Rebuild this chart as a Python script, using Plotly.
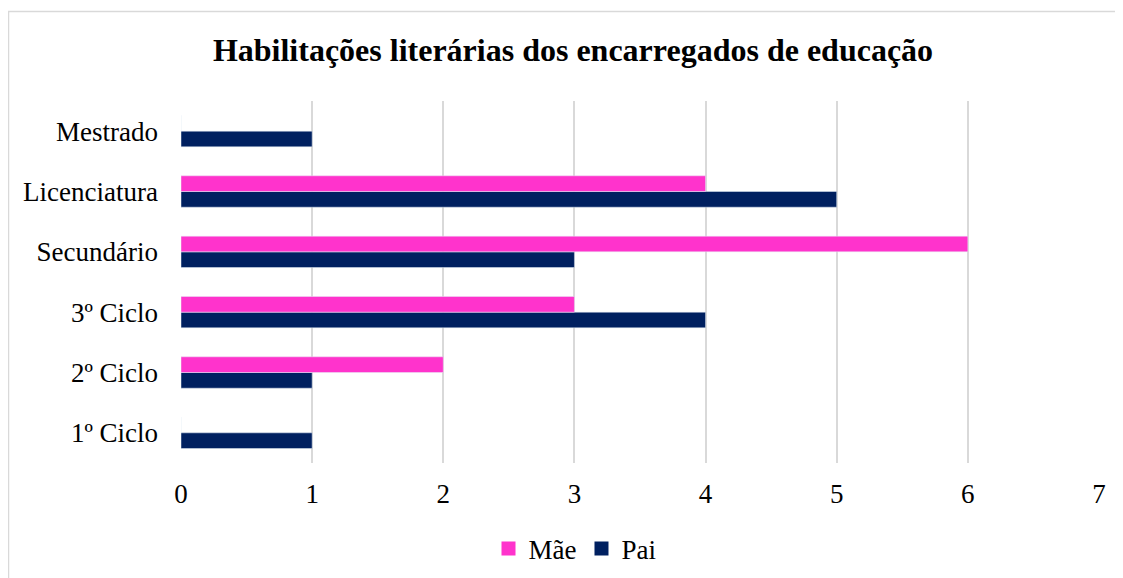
import plotly.graph_objects as go

categorias = ["1º Ciclo", "2º Ciclo", "3º Ciclo", "Secundário", "Licenciatura", "Mestrado"]
mae = [0, 2, 3, 6, 4, 0]
pai = [1, 1, 4, 3, 5, 1]

fonte = "Liberation Serif"
cor_mae = "#FF33CC"
cor_pai = "#002060"

fig = go.Figure()

# Pai first so it sits below Mãe within each group
fig.add_trace(go.Bar(y=categorias, x=pai, orientation="h", name="Pai",
                     marker=dict(color=cor_pai), showlegend=False))
fig.add_trace(go.Bar(y=categorias, x=mae, orientation="h", name="Mãe",
                     marker=dict(color=cor_mae), showlegend=False))

# legend entries with bigger square keys
for nome, cor in [("Mãe", cor_mae), ("Pai", cor_pai)]:
    fig.add_trace(go.Scatter(x=[None], y=[None], mode="markers", name=nome,
                             marker=dict(symbol="square", size=14, color=cor)))

# page body has an 8px margin, so coordinates are shifted by 8
O = 8
W, H = 1123 - O, 578 - O
L, T = 181 - O, 101 - O
R = W - (1099 - O)
B = H - (463 - O)
pw, ph = W - L - R, H - T - B

def px(x):
    return (x - O - L) / pw

def py(y):
    return (H - B - (y - O)) / ph

# outer chart border (left and top edges are visible in the picture)
x0, x1, y0, y1 = px(8.5), px(1140), py(600), py(11.5)
fig.add_shape(type="path", xref="paper", yref="paper",
              path=f"M {x0},{y0} L {x0},{y1} L {x1},{y1}",
              line=dict(color="#d9d9d9", width=1.5), layer="below")

fig.update_layout(
    width=W, height=H,
    margin=dict(l=L, r=R, t=T, b=B),
    paper_bgcolor="white", plot_bgcolor="white",
    barmode="group", bargap=0.48, bargroupgap=0,
    font=dict(family=fonte, size=27, color="black"),
    title=dict(text="<b>Habilitações literárias dos encarregados de educação</b>",
               x=(573 - O) / W, xref="container", xanchor="center",
               y=1 - (50 - O) / H, yanchor="middle",
               font=dict(family=fonte, size=32, color="black")),
    legend=dict(orientation="h", x=(575 - O) / W, xref="container", xanchor="center",
                y=1 - (549 - O) / H, yref="container", yanchor="middle",
                font=dict(family=fonte, size=27, color="black"), itemwidth=30,
                traceorder="normal"),
    showlegend=True,
)

fig.update_xaxes(range=[0, 7], dtick=1, showgrid=True, gridcolor="#d9d9d9", gridwidth=1.5,
                 zeroline=False, showline=False, ticks="", ticklabelstandoff=12,
                 tickfont=dict(family=fonte, size=27))
fig.update_yaxes(categoryorder="array", categoryarray=categorias,
                 showgrid=False, zeroline=False, showline=False, ticks="",
                 ticklabelstandoff=22, tickfont=dict(family=fonte, size=27))

fig.write_html("out.html")
